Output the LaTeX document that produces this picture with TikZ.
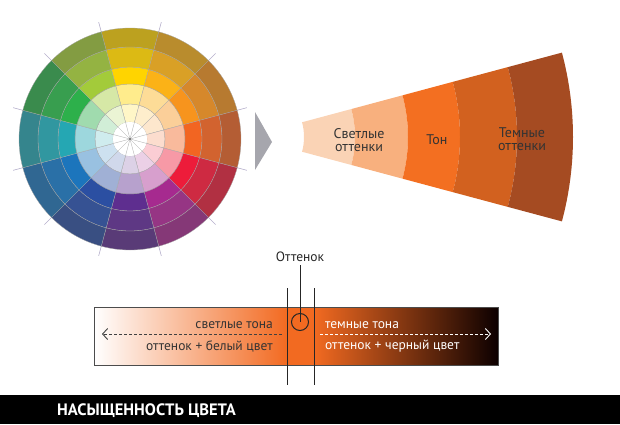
\documentclass[tikz,border=0pt]{standalone}
\usepackage{fontspec}
\setmainfont{PT Sans}
\usetikzlibrary{arrows.meta,calc}
\definecolor{wheelY}{HTML}{FFD400}
\definecolor{wheelYO}{HTML}{FBB217}
\definecolor{wheelO}{HTML}{F7941D}
\definecolor{wheelRO}{HTML}{F26522}
\definecolor{wheelR}{HTML}{ED1C3A}
\definecolor{wheelM}{HTML}{A62A8F}
\definecolor{wheelV}{HTML}{5E2E8F}
\definecolor{wheelBV}{HTML}{2B4FA2}
\definecolor{wheelB}{HTML}{1C75BC}
\definecolor{wheelT}{HTML}{25A7B3}
\definecolor{wheelG}{HTML}{2DB04B}
\definecolor{wheelYG}{HTML}{A3CB3A}
\definecolor{fanA}{HTML}{FAD3B5}
\definecolor{fanB}{HTML}{F8B07E}
\definecolor{fanC}{HTML}{F36F21}
\definecolor{fanD}{HTML}{D2611F}
\definecolor{fanE}{HTML}{A54B22}
\definecolor{hueOrange}{HTML}{F26A21}
\definecolor{tickGray}{HTML}{B4AECB}
\definecolor{pointerGray}{HTML}{A6A6AD}
\tikzset{
	seg/.style={draw=black!35, line width=0.3pt},
	fanText/.style={font=\fontsize{14}{13.5}\selectfont, align=center, text=black!80, inner sep=0pt},
	barText/.style={font=\fontsize{13.5}{15}\selectfont, inner sep=0pt},
	guide/.style={line width=1pt, draw=black!85},
	dashArrow/.style={line width=0.9pt, dash pattern=on 3pt off 2pt, -{Straight Barb[length=5pt,width=11pt]}},
}
\def\wheelColors{wheelY,wheelYO,wheelO,wheelRO,wheelR,wheelM,wheelV,wheelBV,wheelB,wheelT,wheelG,wheelYG}
\begin{document}
\begin{tikzpicture}[x=1pt,y=1pt]
	\useasboundingbox (0,0) rectangle (620,424);
	\begin{scope}[shift={(130,285)}]
	\foreach \k in {0,...,11}
		\draw[tickGray, line width=0.6pt] (15+30*\k:100) -- (15+30*\k:121);
	\foreach \c [count=\i from 0] in \wheelColors {
		\pgfmathsetmacro\aa{75-30*\i}
		\pgfmathsetmacro\ab{105-30*\i}
		\foreach \ri/\ro/\tone in {17/35/!22!white, 35/55/!45!white, 55/72/!100, 72/92/!85!black!92!white, 92/111/!70!black!88!white}
			\filldraw[seg, fill=\c\tone] (\aa:\ri) arc (\aa:\ab:\ri) -- (\ab:\ro) arc (\ab:\aa:\ro) -- cycle;
	}
	\fill[white] (0,0) circle (17);
	\foreach \k in {0,...,11}
		\draw[seg] (0,0) -- (15+30*\k:17);
	\fill[black!70] (0,0) circle (0.9);
	\end{scope}
	\fill[pointerGray] (255,312) -- (272,282) -- (255,254) -- cycle;
	\begin{scope}[shift={(247,287)}]
	\foreach \ri/\ro/\c in {57/108/fanA,108/161/fanB,161/213/fanC,213/270/fanD,270/326/fanE}
		\fill[\c] (-15:\ri) -- (-15:\ro) arc (-15:15:\ro) -- (15:\ri) arc (15:-15:\ri) -- cycle;
	\end{scope}
	\node[fanText] (light) at (359,284) {Светлые\\оттенки};
	\node[fanText] (tone) at (437,284) {Тон};
	\node[fanText] (dark) at (522,285) {Темные\\оттенки};
	\fill[left color=white, right color=hueOrange] (94,59) rectangle (287,117);
	\fill[hueOrange] (287,59) rectangle (314,117);
	\fill[left color=hueOrange, middle color=hueOrange!45!black, right color=black!95!red] (314,59) rectangle (498,117);
	\draw[black!70, line width=0.8pt] (94,59) rectangle (498,117);
	\coordinate (lightStart) at (282,90);
	\coordinate (lightEnd) at (102,90);
	\coordinate (darkStart) at (320,90);
	\coordinate (darkEnd) at (491,90);
	\draw[dashArrow, black!75] (lightStart) -- (lightEnd);
	\draw[dashArrow, white] (darkStart) -- (darkEnd);
	\node[barText, anchor=east, text=black!80] (lightTone) at (273,99) {светлые тона};
	\node[barText, anchor=east, text=black!80] (lightMix) at (273,78) {оттенок + белый цвет};
	\node[barText, anchor=west, text=white] (darkTone) at (325,99) {темные тона};
	\node[barText, anchor=west, text=white] (darkMix) at (325,78) {оттенок + черный цвет};
	\node[font=\fontsize{13.5}{13}\selectfont, text=black!85] (hue) at (300,167) {Оттенок};
	\node[circle, draw=black!85, line width=1pt, minimum size=17pt, inner sep=0pt] (hueMark) at (300,102) {};
	\draw[guide] (hue.south) -- (hueMark.center);
	\coordinate (cutTopL) at (287,136);
	\coordinate (cutBotL) at (287,39);
	\coordinate (cutTopR) at (314,136);
	\coordinate (cutBotR) at (314,39);
	\draw[guide] (cutTopL) -- (cutBotL);
	\draw[guide] (cutTopR) -- (cutBotR);
	\fill[black] (0,0) rectangle (620,29);
	\node[anchor=west, text=white, inner sep=0pt, font=\bfseries\fontsize{16.5}{17}\selectfont] (title) at (57,13) {НАСЫЩЕННОСТЬ ЦВЕТА};
\end{tikzpicture}
\end{document}
